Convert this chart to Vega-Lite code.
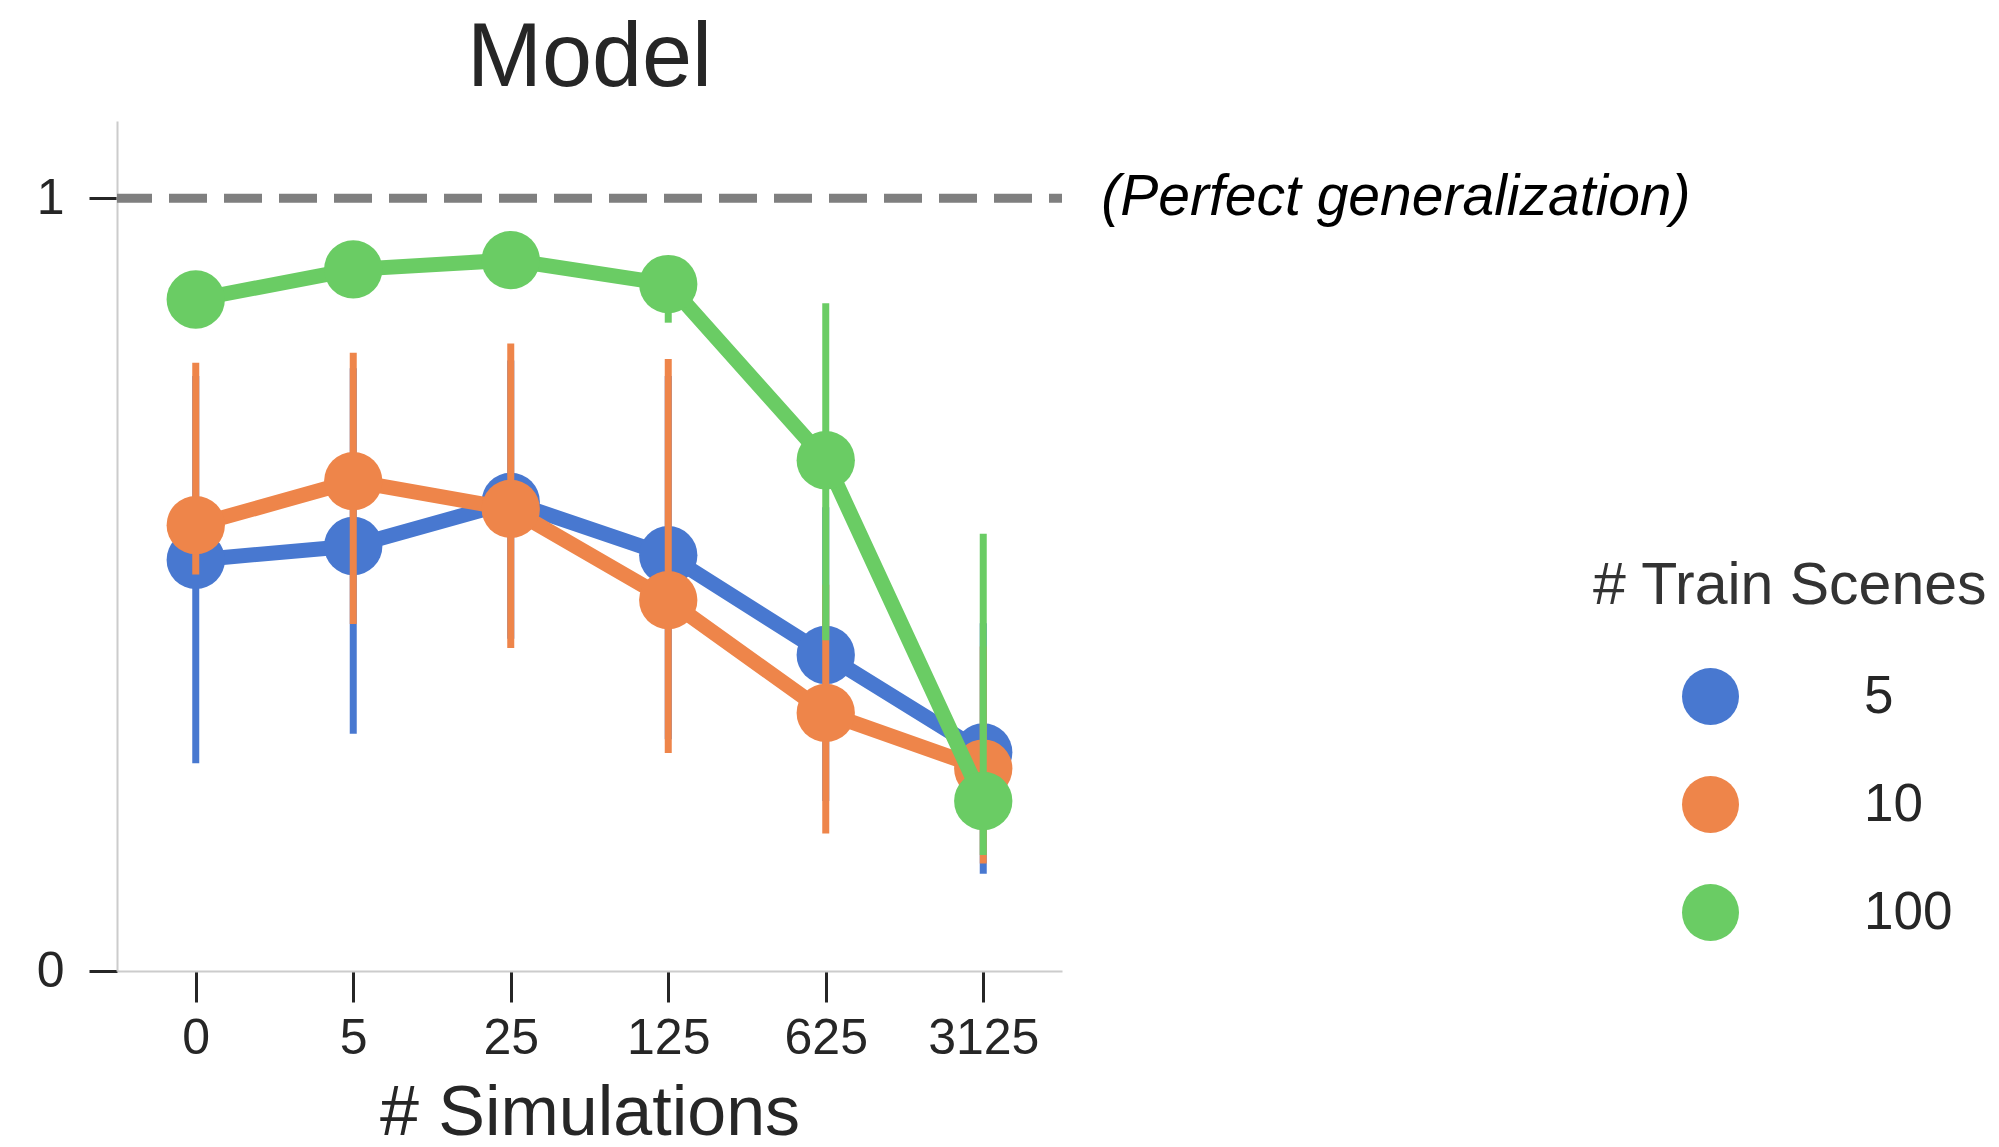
{
  "$schema": "https://vega.github.io/schema/vega-lite/v6.json",
  "width": 945,
  "height": 850,
  "autosize": {"type": "none"},
  "padding": {"left": 117, "top": 121, "right": 937, "bottom": 176},
  "background": "white",
  "config": {
    "view": {"stroke": null},
    "font": "Liberation Sans"
  },
  "title": {
    "text": "Model",
    "font": "Liberation Sans",
    "fontSize": 90,
    "fontWeight": "normal",
    "color": "#262626",
    "anchor": "middle",
    "frame": "group",
    "baseline": "bottom",
    "offset": -74
  },
  "datasets": {
    "scores": [
      {"scenes": 5, "sims": "0", "mean": 0.532, "lo": 0.269, "hi": 0.77},
      {"scenes": 5, "sims": "5", "mean": 0.55, "lo": 0.307, "hi": 0.78},
      {"scenes": 5, "sims": "25", "mean": 0.607, "lo": 0.43, "hi": 0.79},
      {"scenes": 5, "sims": "125", "mean": 0.538, "lo": 0.3, "hi": 0.77},
      {"scenes": 5, "sims": "625", "mean": 0.409, "lo": 0.22, "hi": 0.6},
      {"scenes": 5, "sims": "3125", "mean": 0.283, "lo": 0.126, "hi": 0.45},
      {"scenes": 10, "sims": "0", "mean": 0.577, "lo": 0.513, "hi": 0.787},
      {"scenes": 10, "sims": "5", "mean": 0.634, "lo": 0.449, "hi": 0.8},
      {"scenes": 10, "sims": "25", "mean": 0.598, "lo": 0.418, "hi": 0.812},
      {"scenes": 10, "sims": "125", "mean": 0.48, "lo": 0.282, "hi": 0.792},
      {"scenes": 10, "sims": "625", "mean": 0.334, "lo": 0.178, "hi": 0.5},
      {"scenes": 10, "sims": "3125", "mean": 0.262, "lo": 0.139, "hi": 0.42},
      {"scenes": 100, "sims": "0", "mean": 0.869, "lo": 0.845, "hi": 0.89},
      {"scenes": 100, "sims": "5", "mean": 0.908, "lo": 0.885, "hi": 0.925},
      {"scenes": 100, "sims": "25", "mean": 0.92, "lo": 0.9, "hi": 0.935},
      {"scenes": 100, "sims": "125", "mean": 0.889, "lo": 0.839, "hi": 0.915},
      {"scenes": 100, "sims": "625", "mean": 0.661, "lo": 0.428, "hi": 0.864},
      {"scenes": 100, "sims": "3125", "mean": 0.22, "lo": 0.15, "hi": 0.566}
    ],
    "reference": [
      {"sims": "3125", "v": 1, "label": "(Perfect generalization)"}
    ]
  },
  "data": {"name": "scores"},
  "layer": [
    {
      "data": {"name": "reference"},
      "mark": {"type": "rule", "color": "#7f7f7f", "strokeWidth": 9, "strokeDash": [38, 17], "strokeDashOffset": 25, "strokeCap": "butt"},
      "encoding": {
        "y": {"field": "v", "type": "quantitative", "scale": {"domain": [0, 1.1]}}
      }
    },
    {
      "data": {"name": "reference"},
      "mark": {"type": "text", "align": "left", "baseline": "middle", "dx": 118, "font": "Liberation Sans", "fontStyle": "italic", "fontSize": 57, "color": "#000000"},
      "encoding": {
        "x": {"field": "sims", "type": "ordinal", "scale": {"type": "point", "padding": 0.5, "domain": ["0", "5", "25", "125", "625", "3125"]}},
        "y": {"field": "v", "type": "quantitative"},
        "text": {"field": "label"}
      }
    },
    {
      "transform": [{"filter": "datum.scenes == 5"}],
      "layer": [
        {
          "mark": {"type": "rule", "strokeWidth": 7, "strokeCap": "butt"},
          "encoding": {
            "x": {"field": "sims", "type": "ordinal"},
            "y": {"field": "lo", "type": "quantitative"},
            "y2": {"field": "hi"},
            "color": {"field": "scenes", "type": "ordinal"}
          }
        },
        {
          "mark": {"type": "line", "strokeWidth": 15, "strokeJoin": "round"},
          "encoding": {
            "x": {"field": "sims", "type": "ordinal"},
            "y": {"field": "mean", "type": "quantitative"},
            "color": {"field": "scenes", "type": "ordinal"}
          }
        },
        {
          "mark": {"type": "point", "filled": true, "opacity": 1, "size": 3400, "strokeWidth": 0},
          "encoding": {
            "x": {
              "field": "sims",
              "type": "ordinal",
              "axis": {
                "title": "# Simulations",
                "titleFont": "Liberation Sans",
                "titleFontSize": 70,
                "titleFontWeight": "normal",
                "titleColor": "#262626",
                "titlePadding": 16,
                "titleBaseline": "top",
                "labelFont": "Liberation Sans",
                "labelFontSize": 50,
                "labelColor": "#262626",
                "labelAngle": 0,
                "labelAlign": "center",
                "labelBaseline": "top",
                "labelPadding": 11,
                "tickSize": 31,
                "tickWidth": 3,
                "tickColor": "#262626",
                "domainColor": "#cccccc",
                "domainWidth": 2,
                "grid": false
              }
            },
            "y": {
              "field": "mean",
              "type": "quantitative",
              "axis": {
                "title": null,
                "values": [0, 1],
                "format": "d",
                "labelFont": "Liberation Sans",
                "labelFontSize": 50,
                "labelColor": "#262626",
                "labelAlign": "right",
                "labelBaseline": "middle",
                "labelPadding": 25,
                "tickSize": 28,
                "tickWidth": 3,
                "tickColor": "#262626",
                "domainColor": "#cccccc",
                "domainWidth": 2,
                "grid": false
              }
            },
            "color": {
              "field": "scenes",
              "type": "ordinal",
              "scale": {"domain": [5, 10, 100], "range": ["#4878d0", "#ee854a", "#6acc64"]},
              "legend": {
                "title": "# Train Scenes",
                "orient": "none",
                "legendX": 1476,
                "legendY": 436,
                "titleFont": "Liberation Sans",
                "titleFontSize": 59,
                "titleFontWeight": "normal",
                "titleColor": "#333333",
                "titleLimit": 600,
                "titlePadding": 52,
                "symbolType": "circle",
                "symbolSize": 3249,
                "symbolStrokeWidth": 0,
                "symbolOpacity": 1,
                "symbolOffset": 89,
                "labelFont": "Liberation Sans",
                "labelFontSize": 53,
                "labelColor": "#262626",
                "labelOffset": 125,
                "rowPadding": 51
              }
            }
          }
        }
      ]
    },
    {
      "transform": [{"filter": "datum.scenes == 10"}],
      "layer": [
        {
          "mark": {"type": "rule", "strokeWidth": 7, "strokeCap": "butt"},
          "encoding": {
            "x": {"field": "sims", "type": "ordinal"},
            "y": {"field": "lo", "type": "quantitative"},
            "y2": {"field": "hi"},
            "color": {"field": "scenes", "type": "ordinal"}
          }
        },
        {
          "mark": {"type": "line", "strokeWidth": 15, "strokeJoin": "round"},
          "encoding": {
            "x": {"field": "sims", "type": "ordinal"},
            "y": {"field": "mean", "type": "quantitative"},
            "color": {"field": "scenes", "type": "ordinal"}
          }
        },
        {
          "mark": {"type": "point", "filled": true, "opacity": 1, "size": 3400, "strokeWidth": 0},
          "encoding": {
            "x": {"field": "sims", "type": "ordinal"},
            "y": {"field": "mean", "type": "quantitative"},
            "color": {"field": "scenes", "type": "ordinal"}
          }
        }
      ]
    },
    {
      "transform": [{"filter": "datum.scenes == 100"}],
      "layer": [
        {
          "mark": {"type": "rule", "strokeWidth": 7, "strokeCap": "butt"},
          "encoding": {
            "x": {"field": "sims", "type": "ordinal"},
            "y": {"field": "lo", "type": "quantitative"},
            "y2": {"field": "hi"},
            "color": {"field": "scenes", "type": "ordinal"}
          }
        },
        {
          "mark": {"type": "line", "strokeWidth": 15, "strokeJoin": "round"},
          "encoding": {
            "x": {"field": "sims", "type": "ordinal"},
            "y": {"field": "mean", "type": "quantitative"},
            "color": {"field": "scenes", "type": "ordinal"}
          }
        },
        {
          "mark": {"type": "point", "filled": true, "opacity": 1, "size": 3400, "strokeWidth": 0},
          "encoding": {
            "x": {"field": "sims", "type": "ordinal"},
            "y": {"field": "mean", "type": "quantitative"},
            "color": {"field": "scenes", "type": "ordinal"}
          }
        }
      ]
    }
  ]
}
